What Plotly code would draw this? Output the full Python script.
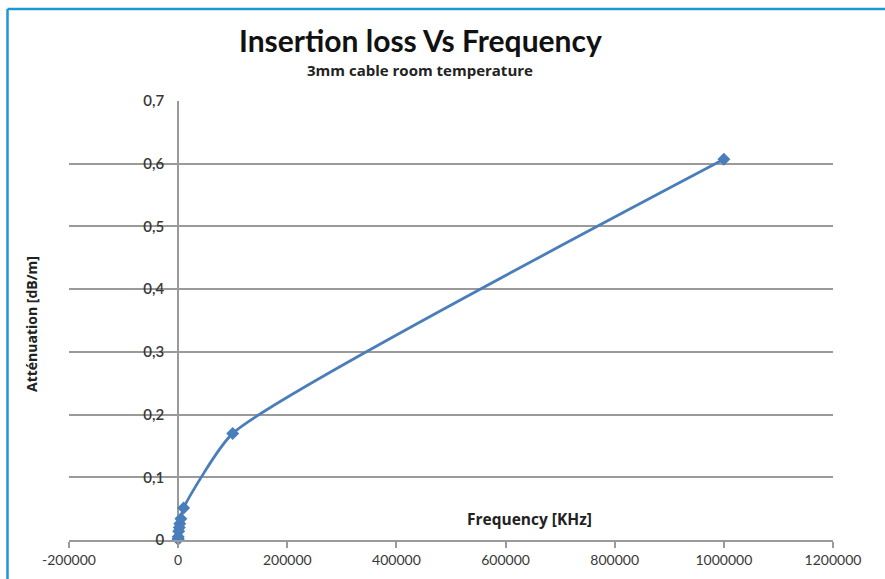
import plotly.graph_objects as go

# Data (frequency in kHz, attenuation in dB/m)
frequency_khz = [1, 10, 100, 1000, 2000, 3000, 5000, 10000, 100000, 1000000]
attenuation_db_m = [0.001, 0.002, 0.005, 0.014, 0.02, 0.026, 0.034, 0.051, 0.17, 0.607]

x_tick_vals = [-200000, 0, 200000, 400000, 600000, 800000, 1000000, 1200000]
x_tick_text = ["-200000", "0", "200000", "400000", "600000", "800000", "1000000", "1200000"]
y_tick_vals = [0, 0.1, 0.2, 0.3, 0.4, 0.5, 0.6, 0.7]
y_tick_text = ["0", "0,1", "0,2", "0,3", "0,4", "0,5", "0,6", "0,7"]

W, H = 885, 579
ML, MR, MT, MB = 69, 52, 101, 39
pw, ph = W - ML - MR, H - MT - MB


def px_x(p):
    return (p - ML) / pw


def px_y(p):
    return (H - MB - p) / ph


FONT = "Lato"
line_color = "#4a7ebb"
grid_color = "#9a9a9a"
text_color = "#383838"

fig = go.Figure()
fig.add_trace(go.Scatter(
    x=frequency_khz, y=attenuation_db_m,
    mode="lines+markers",
    line=dict(color=line_color, width=2.8, shape="spline", smoothing=0.5),
    marker=dict(symbol="diamond", size=10, color=line_color),
    showlegend=False,
    cliponaxis=False,
))

fig.update_layout(
    width=W, height=H,
    margin=dict(l=ML, r=MR, t=MT, b=MB),
    paper_bgcolor="white", plot_bgcolor="white",
    font=dict(family=FONT, color=text_color, size=13),
    xaxis=dict(
        range=[-200000, 1200000],
        tickmode="array", tickvals=x_tick_vals, ticktext=x_tick_text,
        showgrid=False, zeroline=True, zerolinecolor=grid_color, zerolinewidth=1.5,
        showline=True, linecolor=grid_color, linewidth=1.5,
        ticks="outside", ticklen=6, tickcolor=grid_color, tickwidth=1.5,
        tickfont=dict(family=FONT, size=14, color=text_color),
    ),
    yaxis=dict(
        range=[0, 0.7],
        tickmode="array", tickvals=y_tick_vals, ticktext=y_tick_text,
        anchor="free", position=1 / 7,
        showgrid=True, gridcolor=grid_color, gridwidth=1.5,
        zeroline=False, showline=False, ticks="",
        ticklabelstandoff=14,
        tickfont=dict(family=FONT, size=15, color=text_color, weight=600),
    ),
    annotations=[
        dict(text="<b>Insertion loss Vs Frequency</b>", x=px_x(420), y=px_y(40),
             xref="paper", yref="paper", showarrow=False,
             font=dict(family=FONT, size=30, color="#111111"),
             xanchor="center", yanchor="middle"),
        dict(text="<b>3mm cable room temperature</b>", x=px_x(420), y=px_y(70),
             xref="paper", yref="paper", showarrow=False,
             font=dict(family="Open Sans", size=15, color="#222222"),
             xanchor="center", yanchor="middle"),
        dict(text="<b>Frequency [KHz]</b>", x=px_x(529), y=px_y(519),
             xref="paper", yref="paper", showarrow=False,
             font=dict(family="Open Sans", size=15.5, color="#222222"),
             xanchor="center", yanchor="middle"),
        dict(text="<b>Atténuation [dB/m]</b>", x=px_x(31), y=px_y(324),
             xref="paper", yref="paper", showarrow=False, textangle=-90,
             font=dict(family="Open Sans", size=14, color="#222222"),
             xanchor="center", yanchor="middle"),
    ],
    shapes=[
        dict(type="line", xref="paper", yref="paper",
             x0=px_x(7.5), y0=px_y(9), x1=px_x(W + 5), y1=px_y(9),
             line=dict(color="#1e96d8", width=2.5)),
        dict(type="line", xref="paper", yref="paper",
             x0=px_x(7.5), y0=px_y(9), x1=px_x(7.5), y1=px_y(H + 5),
             line=dict(color="#1e96d8", width=2.5)),
    ],
)

fig.write_html("out.html", config={"displayModeBar": False},
               post_script="document.body.style.margin='0';")
